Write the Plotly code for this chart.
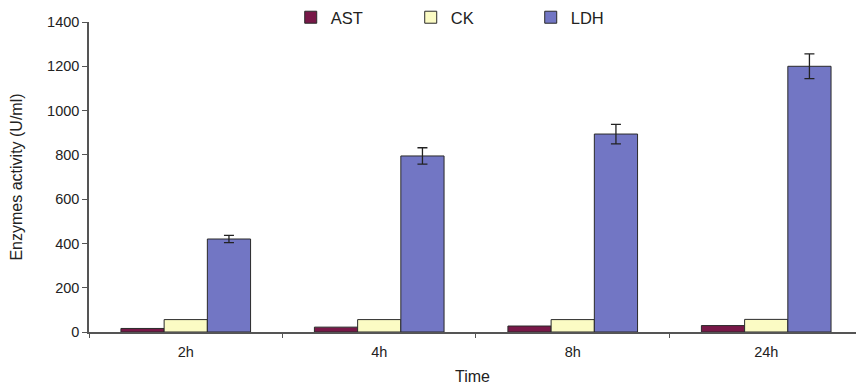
import plotly.graph_objects as go

categories = ["2h", "4h", "8h", "24h"]
ast = [16, 22, 27, 29]
ck = [56, 56, 56, 57]
ldh = [420, 795, 894, 1200]
ldh_err = [16, 37, 44, 56]

fig = go.Figure()
fig.add_trace(go.Bar(name="AST", x=categories, y=ast,
                     marker=dict(color="#781848", line=dict(color="#2a2a2a", width=1))))
fig.add_trace(go.Bar(name="CK", x=categories, y=ck,
                     marker=dict(color="#fbfbc4", line=dict(color="#2a2a2a", width=1))))
fig.add_trace(go.Bar(name="LDH", x=categories, y=ldh,
                     error_y=dict(type="data", array=ldh_err, color="#222", thickness=1.3, width=5),
                     marker=dict(color="#7276c4", line=dict(color="#2a2a2a", width=1))))

fig.update_layout(
    width=856, height=387,
    margin=dict(l=89, r=0, t=22, b=55, autoexpand=False),
    paper_bgcolor="white", plot_bgcolor="white",
    font=dict(family="Liberation Sans, Arial", size=14, color="#222"),
    barmode="group", bargap=0.33, bargroupgap=0,
    showlegend=True,
    legend=dict(orientation="h", x=0.263, y=1.0, xanchor="left", yanchor="top",
                yref="container", xref="paper",
                entrywidth=75, entrywidthmode="pixels",
                font=dict(size=16.5), itemwidth=30, tracegroupgap=0,
                bgcolor="rgba(0,0,0,0)"),
    xaxis=dict(range=[-0.5, 3.464], showline=True, linecolor="#555", linewidth=1.5,
               tickson="boundaries", ticks="outside", ticklen=4, tickcolor="#555",
               ticklabelstandoff=6, tickfont=dict(size=14.5),
               showgrid=False, zeroline=False,
               title=dict(text="Time", font=dict(size=16), standoff=12)),
    yaxis=dict(range=[0, 1400], dtick=200, showline=True, linecolor="#555", linewidth=1.5,
               ticks="outside", ticklen=5, tickcolor="#555", tickfont=dict(size=14.5),
               showgrid=False, zeroline=False,
               title=dict(text="Enzymes activity (U/ml)", font=dict(size=16), standoff=20)),
)
fig.write_html("out.html")
